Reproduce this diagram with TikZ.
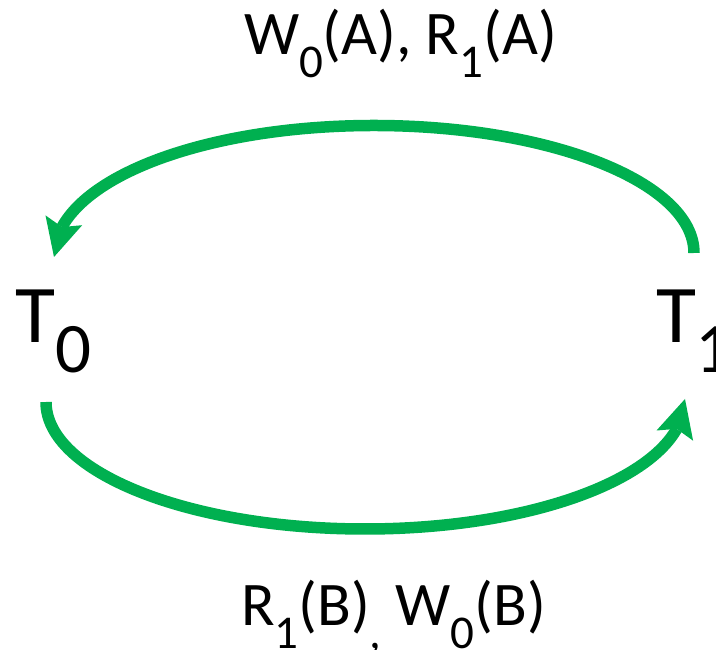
\documentclass[tikz,border=0pt]{standalone}
\usepackage{fontspec}
\setmainfont{Carlito}
\usetikzlibrary{arrows.meta,bending}
\definecolor{pptgreen}{RGB}{0,176,80}
\newcommand\lsub[3]{\raisebox{-#2}{\fontsize{#1}{#1}\selectfont #3}}
\begin{document}
\begin{tikzpicture}[x=1pt,y=1pt,
  lbl/.style={inner sep=0pt,outer sep=0pt,anchor=base west,font=\fontsize{62}{62}\selectfont},
  tname/.style={inner sep=0pt,outer sep=0pt,anchor=base west,font=\fontsize{82}{82}\selectfont},
  conn/.style={draw=pptgreen,line width=11.5pt,
    -{Stealth[length=38pt,width=38pt,inset=7pt,line width=0pt,flex]}}]
\useasboundingbox (0,0) rectangle (716,650);
\node[tname] (t0) at (16,307) {T\lsub{71pt}{30pt}{0}};
\node[tname] (t1) at (656,307) {T\lsub{71pt}{30pt}{1}};
\node[lbl] (top) at (244,595) {W\lsub{47pt}{23pt}{0}(A), R\lsub{47pt}{23pt}{1}(A)};
\node[lbl] (bot) at (241,24) {R\lsub{47pt}{23pt}{1}(B)\lsub{47pt}{23pt}{,} W\lsub{47pt}{23pt}{0}(B)};
\coordinate (ta) at (694,397);
\coordinate (tm) at (374,524.5);
\coordinate (tb) at (54,393);
\coordinate (ba) at (46,248);
\coordinate (bm) at (365,121);
\coordinate (bb) at (685,251);
\draw[conn] (ta) .. controls (694,467.4) and (550.7,524.5) .. (tm)
  .. controls (197.3,524.5) and (54,467.4) .. (tb);
\draw[conn] (ba) .. controls (46,177.9) and (188.8,121) .. (bm)
  .. controls (541.2,121) and (685,177.9) .. (bb);
\end{tikzpicture}
\end{document}
